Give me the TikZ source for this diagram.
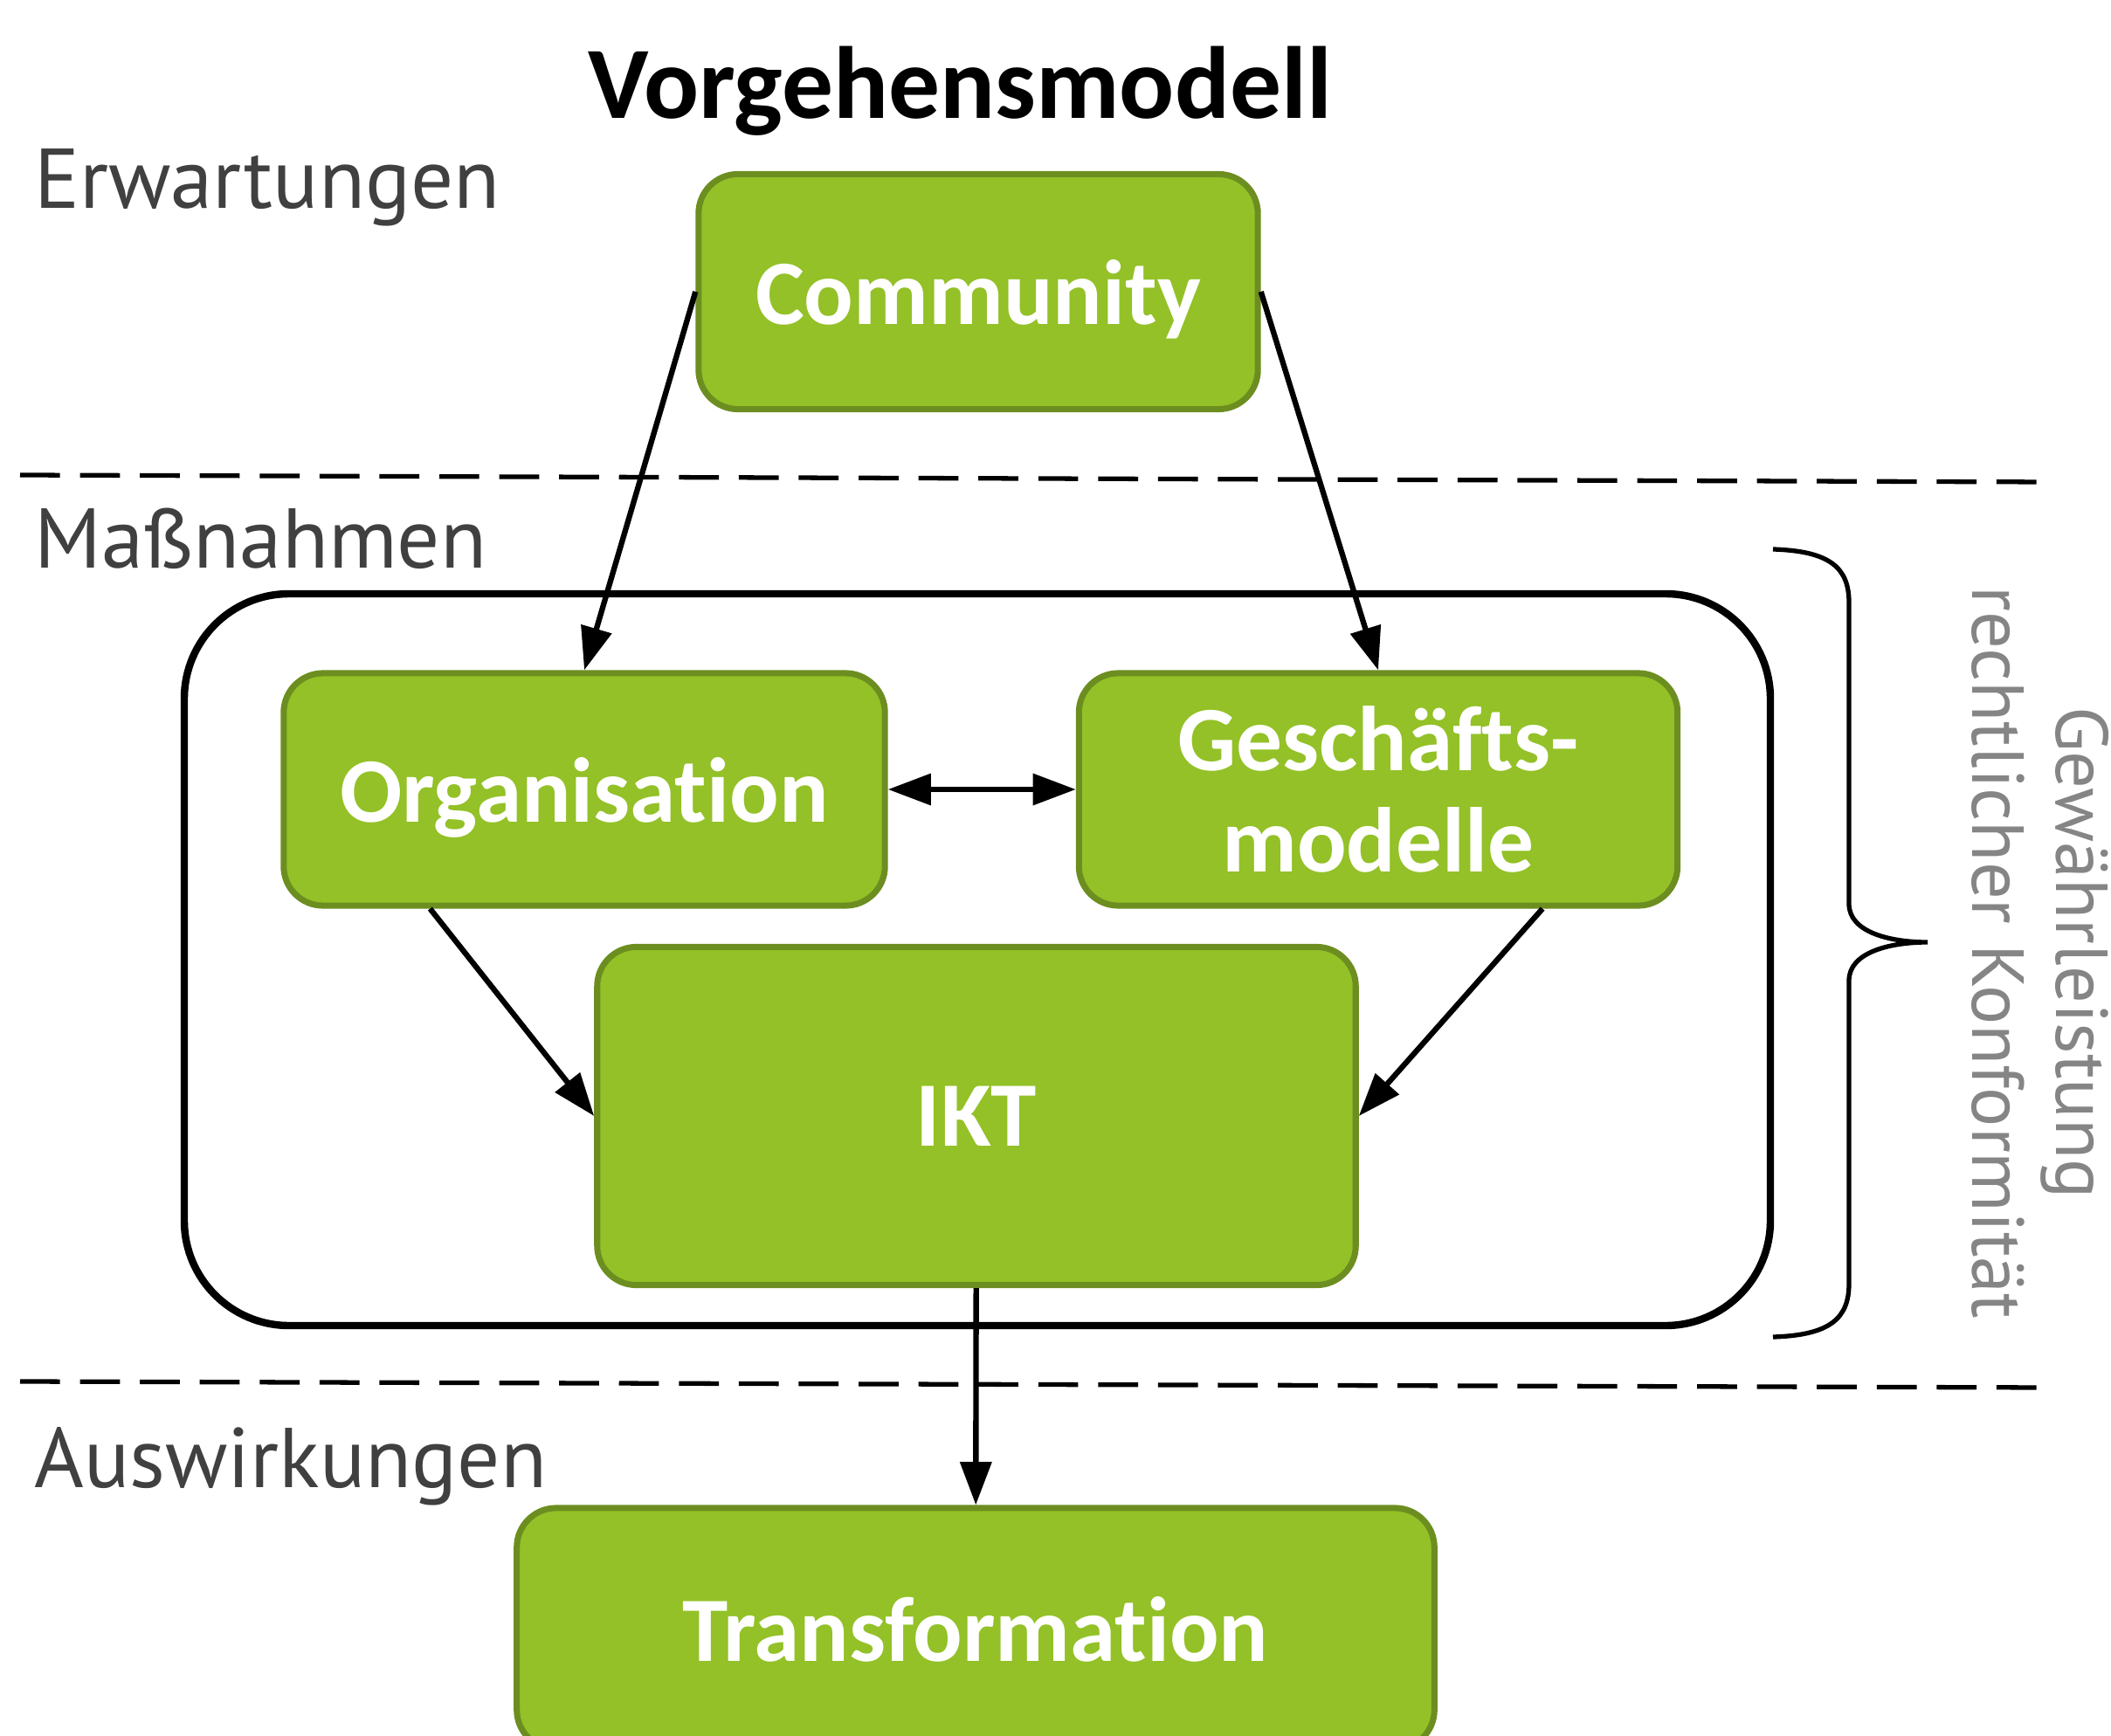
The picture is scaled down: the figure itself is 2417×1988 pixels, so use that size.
\documentclass[tikz,border=0pt]{standalone}
\usepackage{fontspec}
\setmainfont{Carlito}[Ligatures=NoCommon]
\newfontfamily\labelfont{PT Sans}
\newfontfamily\sidefont{PT Sans}
\usetikzlibrary{arrows.meta, shapes, backgrounds}

\definecolor{boxgreen}{HTML}{93C127}
\definecolor{boxedge}{HTML}{6C8E20}
\definecolor{labelgray}{HTML}{404040}
\definecolor{sidegray}{HTML}{858585}

\tikzset{
  box/.style={draw=boxedge, line width=2pt, fill=boxgreen, rounded corners=0.45cm,
    text=white, font=\bfseries\fontsize{30}{33}\selectfont, align=center, inner sep=0pt},
  arr/.style={-{Triangle[length=14pt,width=10pt]}, line width=1.8pt},
  phase/.style={anchor=base west, text=labelgray, font=\labelfont\fontsize{27.6}{30}\selectfont},
  sep/.style={dash pattern=on 13pt off 6.5pt, line width=1.5pt}
}

\begin{document}
\begin{tikzpicture}[x=0.01cm, y=-0.01cm]
  \useasboundingbox (0,0) rectangle (2417,1988);
  \clip (0,0) rectangle (2417,1988);

  \node[anchor=base, font=\bfseries\fontsize{33.4}{38}\selectfont] (title) at (1099,136) {Vorgehensmodell};

  % phases
  \node[phase] (erw) at (27,239) {Erwartungen};
  \node[phase] (mass) at (27,650) {Maßnahmen};
  \node[phase] (ausw) at (27,1703) {Auswirkungen};
  \draw[sep] (23,544) -- (2351,552);
  \draw[sep] (23,1582) -- (2351,1589);

  % frame around the measures
  \draw[line width=2.4pt, rounded corners=1.2cm] (211,680) rectangle (2027,1518);

  \node[box, text depth=0pt, minimum width=6.4cm, minimum height=2.69cm] (comm) at (1120,334) {Community};
  \node[box, text depth=0pt, minimum width=6.88cm, minimum height=2.66cm] (org) at (669,904) {Organisation};
  \node[box, minimum width=6.85cm, minimum height=2.66cm] (gesch) at (1578,904) {Geschäfts-\\modelle};
  \node[box, text depth=0pt, minimum width=8.68cm, minimum height=3.87cm] (ikt) at (1118,1278) {IKT};
  \node[box, text depth=0pt, minimum width=10.5cm, minimum height=2.76cm] (trans) at (1117,1865) {Transformation};

  \draw[arr] (comm.west) -- (org.north);
  \draw[arr] (comm.east) -- (gesch.north);
  \draw[arr, {Triangle[length=14pt,width=10pt]}-{Triangle[length=14pt,width=10pt]}] (org) -- (gesch);
  \draw[arr] ([xshift=1.71cm]org.south west) -- (ikt.west);
  \draw[arr] ([xshift=-1.58cm]gesch.south east) -- (ikt.east);
  \draw[arr] (ikt) -- (trans);

  % brace
  \draw[line width=1.5pt] (2030,629) .. controls (2095,631) and (2117,650) .. (2117,690)
    -- (2117,1035) .. controls (2117,1068) and (2165,1079) .. (2207,1079)
    .. controls (2165,1079) and (2117,1090) .. (2117,1123)
    -- (2117,1470) .. controls (2117,1510) and (2095,1529) .. (2030,1531);
  \node[rotate=-90, align=center, text=sidegray, font=\sidefont\fontsize{24}{27.3}\selectfont] (garant) at (2336,1091) {Gewährleistung\\rechtlicher Konformität};
\end{tikzpicture}
\end{document}
